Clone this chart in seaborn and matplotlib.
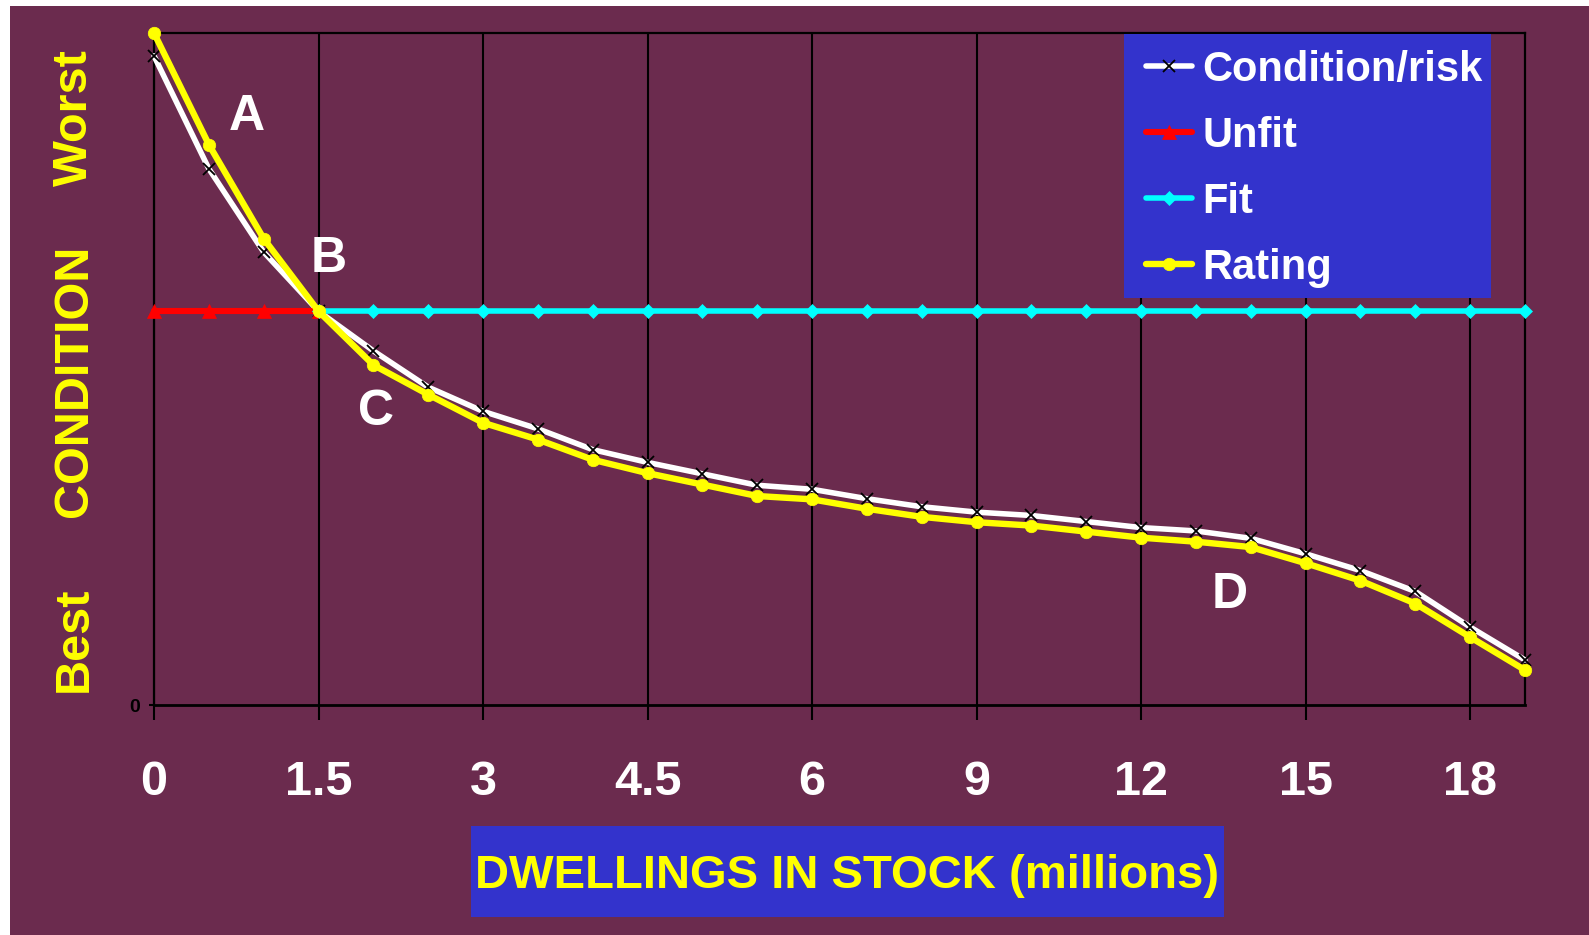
import matplotlib
matplotlib.use("Agg")
import matplotlib.pyplot as plt
from matplotlib.patches import Rectangle
import seaborn as sns

# Dwellings in stock (millions) – category axis
stock = ["0", "0.5", "1", "1.5", "2", "2.5", "3", "3.5", "4", "4.5", "5", "5.5",
         "6", "7", "8", "9", "10", "11", "12", "13", "14", "15", "16", "17", "18", "19"]

# Condition scores (0 = best, 100 = worst)
condition_risk = [96.6, 79.8, 67.4, 58.6, 52.7, 47.3, 43.7, 41.1, 38.0, 36.1, 34.4, 32.7,
                  32.1, 30.7, 29.5, 28.7, 28.2, 27.3, 26.4, 25.9, 24.8, 22.5, 20.0, 16.9,
                  11.6, 6.7]
rating = [100.0, 83.4, 69.4, 58.6, 50.6, 46.2, 42.0, 39.5, 36.5, 34.5, 32.8, 31.1,
          30.6, 29.2, 28.0, 27.2, 26.7, 25.8, 24.9, 24.3, 23.5, 21.1, 18.5, 15.1,
          10.1, 5.2]

unfit_stock = ["0", "0.5", "1", "1.5"]
unfit = [58.6, 58.6, 58.6, 58.6]
fit_stock = ["1.5", "2", "2.5", "3", "3.5", "4", "4.5", "5", "5.5", "6", "7", "8",
             "9", "10", "11", "12", "13", "14", "15", "16", "17", "18", "19"]
fit = [58.6, 58.6, 58.6, 58.6, 58.6, 58.6, 58.6, 58.6, 58.6, 58.6, 58.6, 58.6,
       58.6, 58.6, 58.6, 58.6, 58.6, 58.6, 58.6, 58.6, 58.6, 58.6, 58.6]

tick_labels = ["0", "1.5", "3", "4.5", "6", "9", "12", "15", "18"]
series_names = ["Condition/risk", "Unfit", "Fit", "Rating"]
zone_labels = ["A", "B", "C", "D"]
zone_x = [1.70, 3.19, 4.05, 19.62]
zone_y = [85.6, 64.5, 41.7, 14.5]

MAROON = "#6B2B4E"
BLUE = "#3333CC"
YELLOW = "#FFFF00"

sns.set_style("ticks")
plt.rcParams["font.family"] = ["Liberation Sans", "DejaVu Sans"]
plt.rcParams["font.weight"] = "bold"

fig = plt.figure(figsize=(15.89, 9.35), dpi=100, facecolor="white")
fig.patches.append(Rectangle((10 / 1589, 0), 1, 929 / 935, transform=fig.transFigure,
                             facecolor=MAROON, edgecolor="none", zorder=-10))
ax = fig.add_axes([154 / 1589, 1 - 705 / 935, (1525 - 154) / 1589, (705 - 33) / 935])
ax.set_facecolor("none")

# (x, y, colour, marker, line width, marker size, marker edge width, edge colour, z)
series_styles = [
    (stock, condition_risk, "white", "x", 4.0, 8.0, 1.3, "black", 3),
    (unfit_stock, unfit, "#FF0000", "^", 4.4, 10.5, 0.5, "#FF0000", 4),
    (fit_stock, fit, "#00FFFF", "D", 4.0, 7.0, 0.5, "#00FFFF", 4),
    (stock, rating, YELLOW, "o", 4.6, 9.0, 0.5, YELLOW, 5),
]

handles = []
for xs, ys, col, mk, lw, ms, mew, mec, z in series_styles:
    sns.pointplot(x=xs, y=ys, order=stock, color=col, markers=mk, linestyles="-",
                  errorbar=None, ax=ax, zorder=z)
    ln = ax.lines[-1]
    ln.set_linewidth(lw)
    ln.set_markersize(ms)
    ln.set_markeredgewidth(mew)
    ln.set_markeredgecolor(mec)
    ln.set_markerfacecolor(col)
    ln.set_zorder(z)
    ln.set_clip_on(False)
    handles.append(ln)

ax.set_xlim(0, len(stock) - 1)
ax.set_ylim(0, 100)
ax.set_xticks([stock.index(t) for t in tick_labels])
ax.set_xticklabels(tick_labels)
ax.set_yticks([0])
ax.set_yticklabels(["0"])
ax.set_xlabel("")
ax.set_ylabel("")

ax.grid(axis="x", color="black", linewidth=1.5)
ax.grid(axis="y", visible=False)
ax.set_axisbelow(True)
for side, sp in ax.spines.items():
    sp.set_visible(True)
    sp.set_color("black")
    sp.set_linewidth(1.6)
ax.spines["bottom"].set_linewidth(2.0)

ax.tick_params(axis="x", direction="out", length=10.8, width=1.5, color="black",
               pad=28.5, labelsize=35, labelcolor="white")
ax.tick_params(axis="y", direction="out", length=3.6, width=1.5, color="black",
               pad=6.5, labelsize=14, labelcolor="black")
for lab in ax.get_xticklabels() + ax.get_yticklabels():
    lab.set_fontweight("bold")

for t, x, y in zip(zone_labels, zone_x, zone_y):
    ax.text(x, y, t, ha="center", va="baseline", fontsize=36, fontweight="bold",
            color="white", zorder=6)

# legend panel
ax.add_patch(Rectangle(((1124 - 154) / 1371, (705 - 298) / 672), (1491 - 1124) / 1371,
                       (298 - 34) / 672, transform=ax.transAxes, facecolor=BLUE,
                       edgecolor="none", zorder=6, clip_on=False))
leg = ax.legend(handles=handles, labels=series_names, loc="upper left",
                bbox_to_anchor=((1146 - 154) / 1371, (705 - 50) / 672),
                frameon=False, prop={"size": 30, "weight": "bold"}, labelcolor="white",
                handlelength=1.1, handletextpad=0.26, labelspacing=0.62,
                borderpad=0, borderaxespad=0)
leg.set_zorder(7)

# axis titles
fig.patches.append(Rectangle((471 / 1589, 1 - 917 / 935), (1224 - 471) / 1589,
                             (917 - 826) / 935, transform=fig.transFigure,
                             facecolor=BLUE, edgecolor="none", zorder=1))
fig.text(847.5 / 1589, 1 - 888 / 935, "DWELLINGS IN STOCK (millions)", ha="center",
         va="baseline", fontsize=34, fontweight="bold", color=YELLOW, zorder=2)

for word, yc in zip(["Best", "CONDITION", "Worst"], [639, 381, 117.5]):
    fig.text(87 / 1589, 1 - yc / 935, word, rotation=90, rotation_mode="anchor",
             ha="center", va="baseline", fontsize=35, fontweight="bold", color=YELLOW)

fig.savefig("out.png", dpi=100, facecolor=fig.get_facecolor())
